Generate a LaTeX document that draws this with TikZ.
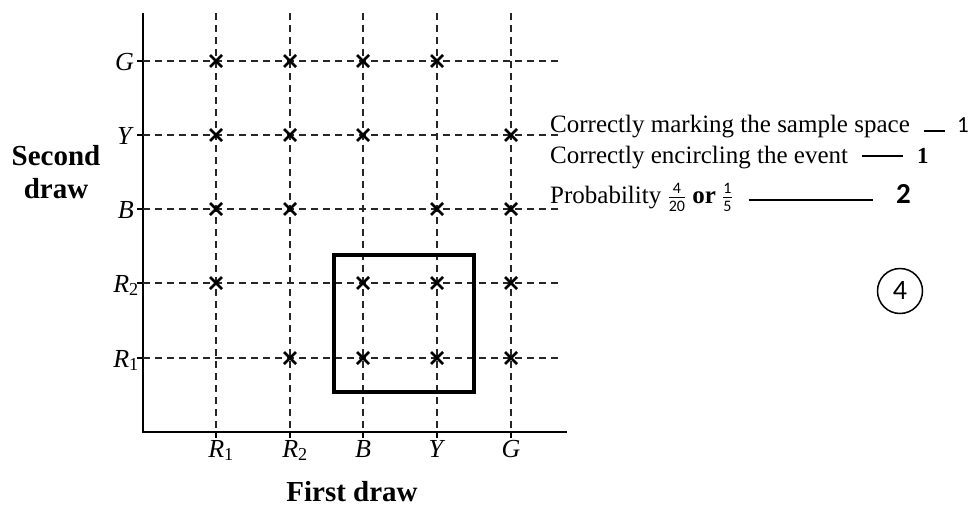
\documentclass[tikz,border=0pt]{standalone}
\usepackage{fontspec}
\setmainfont{Liberation Serif}
\newfontfamily\calibrifont{Carlito}
\usetikzlibrary{positioning}
\newcommand\schemefrac[2]{$\frac{\hbox{\calibrifont\fontsize{16}{16}\selectfont #1}}{\hbox{\calibrifont\fontsize{16}{16}\selectfont #2}}$}
\tikzset{
  gridline/.style={dash pattern=on 7pt off 5pt,line width=1.7pt,black!85},
  axisline/.style={line width=1.5pt},
  axislabel/.style={font=\fontsize{26}{26}\selectfont,inner sep=0pt},
  titlelabel/.style={font=\fontsize{29}{33}\selectfont\bfseries,align=center},
  schemetext/.style={font=\fontsize{25}{25}\selectfont,inner sep=0pt,anchor=base west},
  scorelabel/.style={inner sep=0pt,anchor=base west},
  xmark/.pic={\draw[line width=2.6pt] (-6,-6) -- (6,6) (-6,6) -- (6,-6);}
}
\begin{document}
\begin{tikzpicture}[x=1pt,y=-1pt]
\useasboundingbox (0,0) rectangle (972,506);

% axes
\coordinate (origin) at (143,432);
\coordinate (ytop) at (143,13);
\coordinate (xend) at (567,432);
\draw[axisline] (ytop) -- (origin) -- (xend);

% first draw: columns
\foreach \x [count=\i] in {216,290,363,437,511}{
  \coordinate (ctop\i) at (\x,13);
  \coordinate (cbot\i) at (\x,432);
  \draw[gridline] (ctop\i) -- (cbot\i);
  \draw[axisline] (cbot\i) -- ++(0,6);
}
% second draw: rows
\foreach \y [count=\j] in {358,283,209,135,61}{
  \coordinate (rleft\j) at (143,\y);
  \coordinate (rright\j) at (562,\y);
  \draw[gridline] (rleft\j) -- (rright\j);
  \draw[axisline] (rleft\j) -- ++(-6,0);
}

% sample space (same ball twice is left out)
\foreach \x [count=\i] in {216,290,363,437,511}
  \foreach \y [count=\j] in {358,283,209,135,61}
    {\ifnum\i=\j\else \pic at (\x,\y) {xmark};\fi}

% the event
\node[draw,line width=4pt,minimum width=140pt,minimum height=137pt,inner sep=0pt] (event) at (404,323.5) {};

% labels on the axes
\node[axislabel,anchor=base east] (lR1) at (139,367) {\textit{R}\textsubscript{1}};
\node[axislabel,anchor=base east] (lR2) at (139,292) {\textit{R}\textsubscript{2}};
\node[axislabel,anchor=base east] (lB) at (134,218) {\textit{B}};
\node[axislabel,anchor=base east] (lY) at (134,144) {\textit{Y}};
\node[axislabel,anchor=base east] (lG) at (134,70) {\textit{G}};
\node[axislabel,anchor=base] (bR1) at (221,457) {\textit{R}\textsubscript{1}};
\node[axislabel,anchor=base] (bR2) at (295,457) {\textit{R}\textsubscript{2}};
\node[axislabel,anchor=base] (bB) at (363,457) {\textit{B}};
\node[axislabel,anchor=base] (bY) at (437,457) {\textit{Y}};
\node[axislabel,anchor=base] (bG) at (511,457) {\textit{G}};

\node[titlelabel] (seconddraw) at (56,172) {Second\\draw};
\node[titlelabel,anchor=base] (firstdraw) at (352,501) {First draw};

% marking scheme
\node[schemetext] (marking) at (550,132) {Correctly marking the sample space};
\node[scorelabel,font=\calibrifont\fontsize{23}{23}\selectfont] (markingpts) at (957,132) {1};
\draw[line width=1.4pt] ([xshift=14pt,yshift=1pt]marking.base east) -- ([xshift=-12pt,yshift=1pt]markingpts.base west);

\node[schemetext] (encircling) at (550,163) {Correctly encircling the event};
\node[scorelabel,font=\fontsize{23}{23}\selectfont\bfseries] (encirclingpts) at (917,163) {1};
\draw[line width=1.4pt] ([xshift=14pt,yshift=7pt]encircling.base east) -- ([xshift=-14pt,yshift=7pt]encirclingpts.base west);

\node[schemetext] (probability) at (550,203) {Probability \schemefrac{4}{20} \textbf{or} \schemefrac{1}{5}};
\node[scorelabel,font=\calibrifont\fontsize{29}{29}\selectfont\bfseries] (probabilitypts) at (896,203) {2};
\draw[line width=1.4pt] ([xshift=16pt,yshift=3pt]probability.base east) -- ([xshift=-23pt,yshift=3pt]probabilitypts.base west);

\node[draw,circle,line width=1.5pt,minimum size=45pt,inner sep=0pt,font=\calibrifont\fontsize{28}{28}\selectfont] (total) at (900,291) {4};
\end{tikzpicture}
\end{document}
